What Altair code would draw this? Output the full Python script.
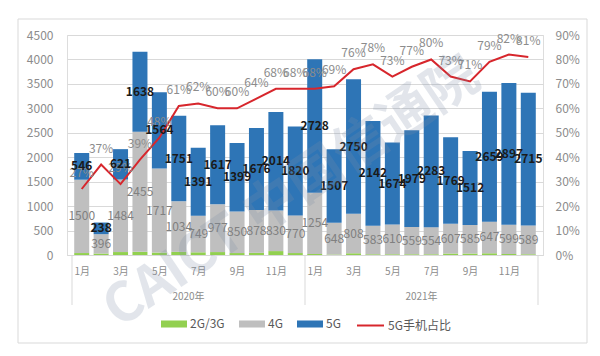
import altair as alt
import pandas as pd

# ---- data ----
months_idx = list(range(24))
g23 = [40, 30, 60, 65, 50, 64, 55, 60, 40, 45, 80, 40,
       20, 10, 35, 15, 15, 15, 15, 30, 30, 35, 20, 15]
g4 = [1500, 396, 1484, 2455, 1717, 1034, 749, 977, 850, 878, 830, 770,
      1254, 648, 808, 583, 610, 559, 554, 607, 585, 647, 599, 589]
g5 = [546, 238, 621, 1638, 1564, 1751, 1391, 1617, 1399, 1676, 2014, 1820,
      2728, 1507, 2750, 2142, 1674, 1979, 2283, 1769, 1512, 2659, 2897, 2715]
share = [27, 37, 29, 39, 48, 61, 62, 60, 60, 64, 68, 68,
         68, 69, 76, 78, 73, 77, 80, 73, 71, 79, 82, 81]
years = ["2020年", "2021年"]
year_mid = [5.5, 17.5]
year_edges = [-0.5, 11.5, 23.5]
types = ["2G/3G", "4G", "5G"]
colors = ["#92d050", "#bfbfbf", "#2e75b6"]
line_name = "5G手机占比"
line_color = "#d7262c"

FONT = "Noto Sans CJK SC"

rows = []
for i in months_idx:
    for k, (t, arr) in enumerate(zip(types, [g23, g4, g5])):
        rows.append({"idx": i, "type": t, "value": arr[i], "ord": k})
bars_df = pd.DataFrame(rows)

lab4 = pd.DataFrame({"idx": months_idx, "v": g4,
                     "mid": [g23[i] + g4[i] / 2 for i in months_idx]})
lab5 = pd.DataFrame({"idx": months_idx, "v": g5,
                     "mid": [g23[i] + g4[i] + g5[i] / 2 for i in months_idx]})
line_df = pd.DataFrame({"idx": months_idx, "pct": share, "s": [line_name] * 24})
year_df = pd.DataFrame({"idx": year_mid, "t": years})
edge_df = pd.DataFrame({"idx": year_edges})

xscale = alt.Scale(domain=[-0.5, 23.5], nice=False, zero=False)
yl = alt.Scale(domain=[0, 4500], nice=False)
yr = alt.Scale(domain=[0, 90], nice=False)

x_axis = alt.Axis(values=list(range(0, 24, 2)),
                  labelExpr="(datum.value % 12 + 1) + '月'",
                  title=None, ticks=False, grid=False, domain=True,
                  domainColor="#d9d9d9", labelColor="#8c8c8c",
                  labelFontSize=10, labelPadding=11, labelFont=FONT)
X = alt.X("idx:Q", scale=xscale, axis=x_axis)

bars = alt.Chart(bars_df).mark_bar(width=15).encode(
    x=X,
    y=alt.Y("value:Q", scale=yl, stack="zero",
            axis=alt.Axis(values=list(range(0, 4501, 500)), title=None,
                          format="d",
                          ticks=False, domain=False, grid=True,
                          gridColor="#d9d9d9", labelColor="#8c8c8c",
                          labelFontSize=12, labelPadding=14, labelFont=FONT)),
    color=alt.Color("type:N", scale=alt.Scale(domain=types, range=colors),
                    legend=alt.Legend(orient="none", legendX=94, legendY=276,
                                      direction="horizontal", title=None,
                                      symbolType="M-1,-0.27H1V0.27H-1Z",
                                      symbolSize=676, symbolStrokeWidth=0,
                                      symbolOpacity=1, labelFontSize=12,
                                      labelColor="#595959", labelFont=FONT,
                                      columnPadding=14, labelOffset=3)),
    order=alt.Order("ord:Q", sort="ascending"),
)

line = alt.Chart(line_df).mark_line(strokeWidth=2).encode(
    x=X,
    y=alt.Y("pct:Q", scale=yr,
            axis=alt.Axis(orient="right", values=list(range(0, 91, 10)),
                          labelExpr="datum.value + '%'", title=None,
                          ticks=False, domain=False, grid=False,
                          labelColor="#8c8c8c", labelFontSize=12,
                          labelPadding=12, labelFont=FONT)),
    stroke=alt.Stroke("s:N", scale=alt.Scale(domain=[line_name], range=[line_color]),
                      legend=alt.Legend(orient="none", legendX=289, legendY=276,
                                        title=None, symbolType="stroke",
                                        symbolSize=729, symbolStrokeWidth=2,
                                        labelFontSize=12, labelColor="#595959",
                                        labelFont=FONT, labelOffset=3)),
)

pct = alt.Chart(line_df).transform_calculate(
    lab="datum.pct + '%'"
).mark_text(dy=-16, fontSize=12, color="#8c8c8c", font=FONT).encode(
    x=X,
    y=alt.Y("pct:Q", scale=yr, axis=None),
    text="lab:N",
)

t4 = alt.Chart(lab4).mark_text(fontSize=12, color="#808080", font=FONT).encode(
    x=X,
    y=alt.Y("mid:Q", scale=yl, axis=None),
    text="v:Q",
)

t5 = alt.Chart(lab5).mark_text(fontSize=12, fontWeight="bold", color="#1a1a1a",
                               font=FONT).encode(
    x=X,
    y=alt.Y("mid:Q", scale=yl, axis=None),
    text="v:Q",
)

edges = alt.Chart(edge_df).mark_rule(color="#d9d9d9", strokeWidth=1).encode(
    x=X,
    y=alt.value(220), y2=alt.value(270),
)

yr_lab = alt.Chart(year_df).mark_text(fontSize=10, color="#8c8c8c", font=FONT).encode(
    x=X,
    y=alt.value(262),
    text="t:N",
)

border = alt.Chart(pd.DataFrame({"a": [0]})).mark_rect(
    fill=None, stroke="#d9d9d9", strokeWidth=1
).encode(x=alt.value(-49), x2=alt.value(520), y=alt.value(-16), y2=alt.value(308))

watermark = alt.Chart(pd.DataFrame({"t": ["CAICT 中国信通院"]})).mark_text(
    fontSize=54, fontWeight="bold", angle=326, color="#7d8ea8", opacity=0.22,
    font=FONT
).encode(x=alt.value(225), y=alt.value(158), text="t:N")

chart = alt.layer(
    border, bars, edges, yr_lab, line, pct, t4, t5, watermark
).resolve_scale(
    y="independent", color="independent", stroke="independent"
).properties(
    width=476, height=220,
    padding={"left": 67, "top": 35, "right": 57, "bottom": 101},
    autosize=alt.AutoSizeParams(type="none"),
).configure_view(stroke=None).configure(background="white")

chart.save("out.html", embed_options={"renderer": "svg", "actions": False})
